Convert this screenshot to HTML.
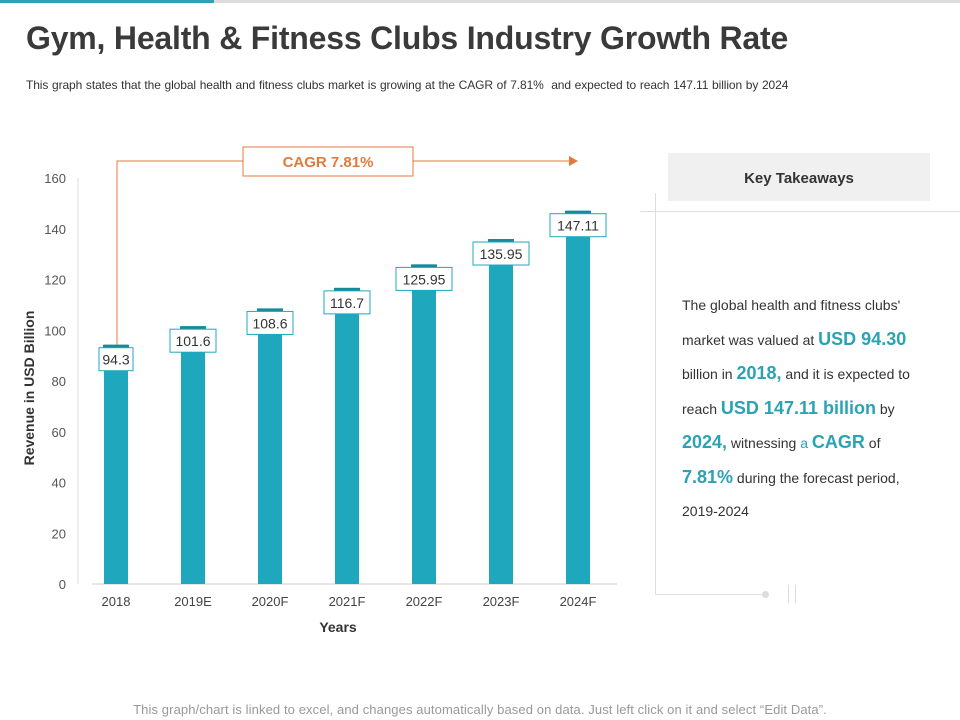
<!DOCTYPE html>
<html><head><meta charset="utf-8"><style>
body{margin:0;width:960px;height:720px;background:#fff;font-family:"Liberation Sans",sans-serif;position:relative;overflow:hidden}
.abs{position:absolute}
</style></head><body>
<div class="abs" style="left:0;top:0;width:214px;height:3px;background:#2aa3b5"></div>
<div class="abs" style="left:214px;top:0;width:746px;height:3px;background:#ddd"></div>
<div class="abs" style="left:26px;top:20px;font-size:32px;font-weight:bold;color:#3a3a3a;letter-spacing:-0.2px">Gym, Health &amp; Fitness Clubs Industry Growth Rate</div>
<div class="abs" style="left:26px;top:78px;font-size:12px;color:#333;letter-spacing:-0.1px;word-spacing:0.5px">This graph states that the global health and fitness clubs market is growing at the CAGR of 7.81%&nbsp; and expected to reach 147.11 billion by 2024</div>

<svg class="abs" style="left:0;top:0" width="960" height="720">
<g id="g"></g>
</svg>

<div class="abs" style="left:668px;top:153px;width:262px;height:48px;background:#f0f0f0;text-align:center;line-height:52px;font-size:15px;font-weight:bold;color:#333">Key Takeaways</div>
<div class="abs" style="left:640px;top:211px;width:320px;height:1px;background:#ddd"></div>
<div class="abs" style="left:655px;top:193px;width:1px;height:402px;background:#ddd"></div>
<div class="abs" style="left:655px;top:594px;width:110px;height:1px;background:#ddd"></div>
<div class="abs" style="left:762px;top:591px;width:7px;height:7px;border-radius:50%;background:#ddd"></div>
<div class="abs" style="left:788px;top:585px;width:1px;height:18px;background:#ddd"></div>
<div class="abs" style="left:795px;top:585px;width:1px;height:18px;background:#ddd"></div>
<div class="abs" style="left:682px;top:289px;width:250px;font-size:14px;line-height:33.5px;color:#333">
The global health and fitness clubs' market was valued at <b style="color:#2aa3b5;font-size:18px">USD 94.30</b> billion in <b style="color:#2aa3b5;font-size:18px">2018,</b> and it is expected to reach <b style="color:#2aa3b5;font-size:18px">USD 147.11 billion</b> by <b style="color:#2aa3b5;font-size:18px">2024,</b> witnessing <span style="color:#2aa3b5">a</span> <b style="color:#2aa3b5;font-size:18px">CAGR</b> of <b style="color:#2aa3b5;font-size:18px">7.81%</b> during the forecast period, 2019-2024</div>

<div class="abs" style="left:0;top:702px;width:960px;text-align:center;font-size:13px;color:#999;letter-spacing:0.1px">This graph/chart is linked to excel, and changes automatically based on data. Just left click on it and select “Edit Data”.</div>

<script>
const categories=["2018","2019E","2020F","2021F","2022F","2023F","2024F"];
const values=[94.3,101.6,108.6,116.7,125.95,135.95,147.11];
const labels=["94.3","101.6","108.6","116.7","125.95","135.95","147.11"];
const yTicks=[0,20,40,60,80,100,120,140,160];
const NS="http://www.w3.org/2000/svg";
const g=document.getElementById('g');
const y=v=>584-v*(406/160);
const x=i=>116+i*77;
function el(t,a,txt){const e=document.createElementNS(NS,t);for(const k in a)e.setAttribute(k,a[k]);if(txt!=null)e.textContent=txt;g.appendChild(e);return e;}
let e;
e=el('line',{x1:92,y1:584,x2:617,y2:584,stroke:'#ccc'});


e=el('line',{x1:78,y1:178,x2:78,y2:584,stroke:'#ddd'});


yTicks.forEach(t=>{
 e=el('text',{x:66,y:y(t)+5,'text-anchor':'end','font-size':13,fill:'#555'},t);
 
 
});
e=el('text',{x:0,y:0,transform:'translate(34,388) rotate(-90)','text-anchor':'middle','font-size':14,'font-weight':'bold',fill:'#333'},'Revenue in USD Billion');


e=el('text',{x:338,y:632,'text-anchor':'middle','font-size':14,'font-weight':'bold',fill:'#333'},'Years');


categories.forEach((c,i)=>{
 const top=y(values[i]);
 e=el('rect',{x:x(i)-12,y:top,width:24,height:584-top,fill:'#1fa8bd'});
 
 
 e=el('rect',{x:x(i)-13,y:top,width:26,height:4,fill:'#168a9c'});
 
 
 e=el('text',{x:x(i),y:606,'text-anchor':'middle','font-size':13,fill:'#444'},c);
 
 
 const w=labels[i].length>5?56:labels[i].length>4?46:34;
 e=el('rect',{x:x(i)-w/2,y:top+3,width:w,height:23,fill:'#fff',stroke:'#1fa8bd'});
 
 
 e=el('text',{x:x(i),y:top+20,'text-anchor':'middle','font-size':14,fill:'#333'},labels[i]);
 
 
});
const y0=y(values[0]),xe=x(values.length-1);
e=el('polyline',{points:`${x(0)+1},${y0} ${x(0)+1},161 ${xe-8},161`,fill:'none',stroke:'#e07b3c','stroke-width':1});


e=el('polygon',{points:`${xe},161 ${xe-9},156 ${xe-9},166`,fill:'#e07b3c'});


e=el('rect',{x:243,y:147,width:170,height:29,fill:'#fff',stroke:'#e07b3c'});


e=el('text',{x:328,y:167,'text-anchor':'middle','font-size':15,'font-weight':'bold',fill:'#e07b3c'},'CAGR 7.81%');


</script>
</body></html>
